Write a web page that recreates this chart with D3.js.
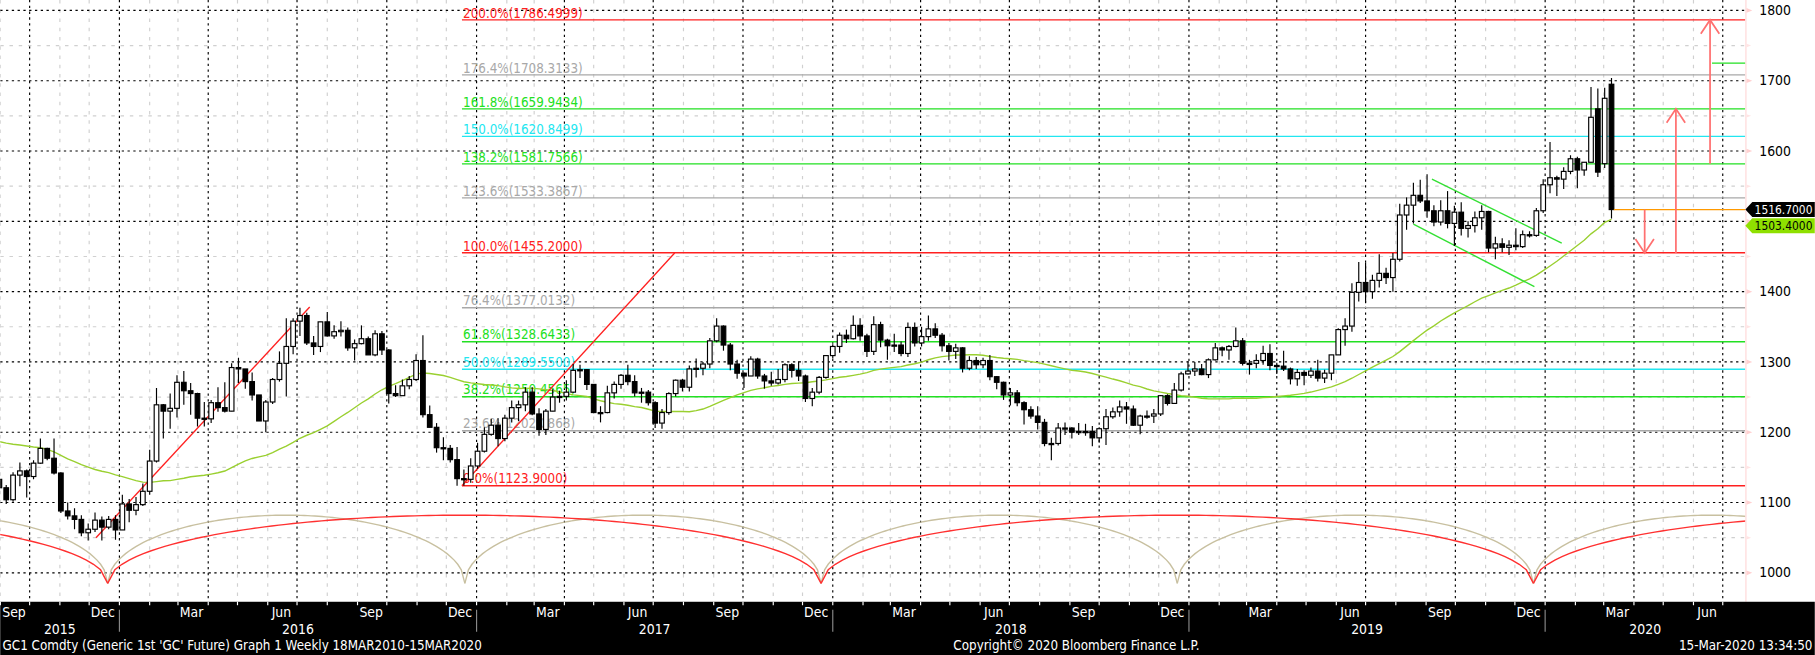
<!DOCTYPE html>
<html><head><meta charset="utf-8">
<script src="https://cdn.jsdelivr.net/npm/d3@7"></script>
<style>body{margin:0;background:#fff}svg{display:block}</style>
</head><body>
<svg id="c" width="1815" height="655" viewBox="0 0 1568 566"></svg>
<script>
// ---- DATA ----
const firstWeek = "2015-08-31";
const opens = [1133,1121,1104,1139,1145,1137,1156,1177,1163,1142,1088,1081,1076,1057,1062,1075,1065,1076,
1061,1098,1089,1097,1116,1159,1239,1230,1234,1271,1259,1255,1220,1219,1242,1235,1230,1292,1290,1272,1253,1216,1243,1275,1298,1322,1358,1366,1327,1322,1357,1337,1343,1345,1320,1326,1333,1310,1340,1317,1255,1252,1266,1275,1302,1225,1207,1178,1177,1161,1134,1133,
1152,1173,1197,1210,1191,1220,1235,1239,1257,1226,1204,1230,1250,1251,1257,1288,1289,1268,1228,1228,1256,1268,1281,1272,1256,1257,1242,1213,1228,1255,1274,1264,1290,1291,1297,1330,1351,1324,1297,1284,1280,1304,1280,1273,1270,1275,1296,1288,1280,1248,1257,1278,
1309,1322,1338,1333,1352,1337,1315,1353,1331,1323,1324,1312,1349,1327,1336,1347,1338,1323,1315,1320,1291,1302,1296,1302,1279,1271,1253,1256,1242,1232,1223,1214,1184,1184,1206,1206,1200,1201,1201,1192,1205,1222,1229,1236,1233,1210,1223,1223,1226,1252,1241,1260,
1283,1287,1290,1282,1303,1320,1317,1322,1330,1298,1298,1302,1312,1295,1294,1290,1276,1285,1281,1287,1277,1284,1310,1346,1351,1399,1413,1400,1416,1426,1420,1446,1509,1523,1537,1529,1515,1499,1515,1497,1513,1490,1494,1505,1514,1462,1468,1463,1466,1464,1481,1480,
1515,1552,1562,1560,1571,1589,1573,1584,1660,1582,1695];
const highs = [1148,1125,1143,1157,1147,1160,1191,1178,1191,1143,1100,1092,1082,1070,1086,1080,1081,1082,
1111,1105,1108,1127,1175,1263,1240,1255,1281,1287,1270,1256,1243,1246,1264,1271,1298,1306,1290,1285,1253,1246,1277,1315,1362,1362,1377,1370,1337,1357,1371,1352,1358,1349,1332,1352,1336,1345,1344,1318,1267,1275,1280,1311,1338,1238,1213,1193,1182,1179,1147,1163,
1185,1207,1219,1220,1225,1245,1245,1264,1264,1234,1233,1261,1259,1274,1297,1296,1290,1268,1237,1266,1272,1283,1296,1281,1263,1260,1244,1233,1257,1275,1276,1295,1305,1300,1334,1362,1352,1327,1303,1285,1308,1306,1283,1286,1290,1298,1298,1301,1282,1263,1280,1310,
1325,1342,1346,1366,1362,1340,1365,1357,1333,1340,1329,1356,1356,1350,1366,1355,1341,1327,1326,1321,1308,1307,1306,1310,1280,1272,1263,1260,1244,1237,1237,1219,1192,1213,1214,1207,1213,1212,1209,1207,1233,1235,1245,1243,1238,1225,1231,1233,1253,1254,1270,1286,
1301,1300,1297,1305,1327,1322,1324,1349,1334,1303,1311,1323,1325,1299,1316,1292,1290,1288,1292,1303,1289,1310,1348,1362,1412,1442,1441,1424,1453,1434,1455,1525,1534,1555,1559,1567,1523,1530,1543,1522,1527,1500,1514,1523,1515,1478,1476,1473,1490,1487,1486,1519,
1560,1613,1565,1577,1594,1592,1584,1691,1689,1690,1704];
const lows = [1117,1098,1101,1123,1107,1133,1155,1160,1140,1085,1076,1062,1052,1046,1058,1046,1062,1047,
1062,1072,1082,1095,1111,1157,1191,1205,1221,1239,1225,1208,1208,1213,1229,1228,1230,1270,1262,1245,1216,1200,1240,1272,1251,1311,1337,1324,1310,1314,1336,1333,1336,1316,1302,1325,1313,1308,1310,1241,1250,1253,1261,1273,1221,1207,1171,1160,1157,1124,1124,1128,
1148,1171,1195,1180,1187,1214,1216,1230,1224,1195,1196,1230,1242,1245,1256,1277,1260,1227,1214,1227,1248,1262,1267,1251,1242,1238,1206,1205,1225,1251,1258,1258,1278,1281,1291,1328,1316,1288,1276,1263,1280,1276,1262,1266,1268,1271,1278,1273,1243,1237,1254,1276,
1305,1313,1327,1332,1330,1307,1310,1321,1303,1314,1308,1307,1322,1322,1330,1334,1315,1302,1304,1285,1288,1290,1291,1274,1261,1246,1238,1237,1211,1219,1204,1180,1160,1181,1196,1191,1196,1195,1180,1185,1182,1219,1222,1212,1209,1197,1219,1213,1223,1238,1240,1258,
1282,1280,1281,1277,1302,1308,1303,1321,1295,1282,1291,1296,1288,1283,1287,1268,1266,1267,1277,1272,1270,1274,1310,1323,1343,1386,1384,1390,1406,1411,1400,1443,1488,1497,1526,1505,1493,1494,1490,1465,1480,1477,1484,1488,1456,1446,1456,1452,1459,1462,1477,1478,
1512,1540,1536,1546,1567,1547,1565,1584,1563,1576,1504];
const closes = [1121,1104,1139,1145,1137,1156,1177,1163,1142,1088,1081,1076,1057,1062,1075,1065,1076,1061,
1098,1089,1097,1116,1159,1239,1230,1234,1271,1259,1255,1220,1219,1242,1235,1230,1292,1290,1272,1253,1216,1243,1275,1298,1322,1358,1366,1327,1322,1357,1337,1343,1345,1320,1326,1333,1310,1340,1317,1255,1252,1266,1275,1302,1225,1207,1178,1177,1161,1134,1133,1152,
1173,1197,1210,1191,1220,1235,1239,1257,1226,1204,1230,1250,1251,1257,1288,1289,1268,1228,1228,1256,1268,1281,1272,1256,1257,1242,1213,1228,1255,1274,1264,1290,1291,1297,1330,1351,1324,1297,1284,1280,1304,1280,1273,1270,1275,1296,1288,1280,1248,1257,1278,1309,
1322,1338,1333,1352,1337,1315,1353,1331,1323,1324,1312,1349,1327,1336,1347,1338,1323,1315,1320,1291,1302,1296,1302,1279,1271,1253,1256,1242,1232,1223,1214,1184,1184,1206,1206,1200,1201,1201,1192,1205,1222,1229,1236,1233,1210,1223,1223,1226,1252,1241,1260,1283,
1287,1290,1282,1303,1320,1317,1322,1330,1298,1298,1302,1312,1295,1294,1290,1276,1285,1281,1287,1277,1284,1310,1346,1351,1399,1413,1400,1416,1426,1420,1446,1509,1523,1537,1529,1515,1499,1515,1497,1513,1490,1494,1505,1514,1462,1468,1463,1466,1464,1481,1480,1515,
1552,1562,1560,1571,1589,1573,1584,1648,1570,1675,1516.7];
// weekly closes before the first drawn week (Dec 2014 - Aug 2015), used for the 40-week average
const priorCloses = [1195,1205,1183,1195,1212,1223,1255,1277,1293,1277,1234,1227,1203,1213,1167,1153,1185,1200,1204,1207,1203,1178,1190,1184,1224,1206,1189,1170,1182,1175,1173,1162,1131,1097,1087,1094,1113,1123,1160];
const maWindow = 40;
const yTicks = [1000,1100,1200,1300,1400,1500,1600,1700,1800];
const fibLabels = ["200.0%(1786.4999)","176.4%(1708.3133)","161.8%(1659.9434)","150.0%(1620.8499)","138.2%(1581.7566)","123.6%(1533.3867)","100.0%(1455.2000)","76.4%(1377.0132)","61.8%(1328.6433)","50.0%(1289.5500)","38.2%(1250.4565)","23.6%(1202.0868)","0.0%(1123.9000)"];
const fibValues = [1786.4999,1708.3133,1659.9434,1620.8499,1581.7566,1533.3867,1455.2,1377.0132,1328.6433,1289.55,1250.4565,1202.0868,1123.9];
const fibKinds = ["r","g","lg","c","lg","g","r","g","lg","c","lg","g","r"];
const fibStart = "2016-12-17";
const trendLines = [["2015-12-08",1050,"2016-07-14",1378],["2016-12-17",1124,"2017-07-23",1455]];
const channel = [["2019-09-07",1560,"2020-01-18",1469],["2019-08-19",1496,"2019-12-21",1407]];
const arrows = [["2020-04-12",1516.7,1455],["2020-05-14",1455,1660],["2020-06-18",1582,1786.5]];
const greenMark = ["2020-06-20","2020-07-30",1725];
const shortCycle = ["2014-12-20","2015-12-20","2016-12-20","2017-12-20","2018-12-20","2019-12-20","2020-12-20"];
const longCycle = ["2013-12-20","2015-12-20","2017-12-20","2019-12-20","2021-12-20"];
const cycleLow = 985, cycleHigh = 1082;
const lastPrice = 1516.7, lastMA = 1503.4;
const footerLeft = "GC1 Comdty (Generic 1st 'GC' Future) Graph 1  Weekly 18MAR2010-15MAR2020";
const footerMid = "Copyright© 2020 Bloomberg Finance L.P.";
const footerRight = "15-Mar-2020 13:34:50";

// ---- DRAW ----
const svg = d3.select("#c");
const W = 1568, H = 566, PR = 1508, PB = 520;
const P = d3.utcParse("%Y-%m-%d");
const x = d3.scaleUtc().domain([P("2016-01-01"), P("2020-01-01")]).range([103, 1335]);
const y = d3.scaleLinear().domain([1000, 1800]).range([495, 9]);
const FONT = "'DejaVu Sans Condensed','DejaVu Sans',sans-serif";
const COL = {r:"#ff2020", g:"#a8a8a8", lg:"#22e022", c:"#22e6f0"};

svg.append("rect").attr("width",W).attr("height",H).attr("fill","#fff");
svg.append("clipPath").attr("id","pc").append("rect").attr("x",0).attr("y",0).attr("width",PR).attr("height",PB);
const plot = svg.append("g").attr("clip-path","url(#pc)");

const xStart = x.invert(0), xEnd = x.invert(PR);
const months = d3.utcMonth.range(d3.utcMonth.ceil(xStart), xEnd);
plot.selectAll(".mg").data(months).join("line")
  .attr("x1",d=>x(d)).attr("x2",d=>x(d)).attr("y1",0).attr("y2",PB)
  .attr("stroke", d=>d.getUTCMonth()%3===0?"#000":"#d0d0d0")
  .attr("stroke-dasharray", d=>d.getUTCMonth()%3===0?"2,3":"3,5").attr("stroke-width",1);
const hv = d3.range(950,1851,50);
plot.selectAll(".hg").data(hv).join("line")
  .attr("x1",0).attr("x2",PR).attr("y1",d=>y(d)).attr("y2",d=>y(d))
  .attr("stroke",d=>d%100===0?"#000":"#d0d0d0").attr("stroke-dasharray",d=>d%100===0?"2,3":"3,5");

function arcs(list, color){
  for(let i=0;i<list.length-1;i++){
    const a=P(list[i]), b=P(list[i+1]);
    const pts=d3.range(0,1.0001,0.01).map(t=>{
      const dd=new Date(+a+(b-a)*t);
      const e=Math.sqrt(Math.max(0,1-(2*t-1)*(2*t-1)));
      return [x(dd), y(cycleLow+(cycleHigh-cycleLow)*e)];
    });
    plot.append("path").attr("d",d3.line()(pts)).attr("fill","none").attr("stroke",color).attr("stroke-width",1.2);
  }
}
arcs(shortCycle,"#c8c0a0");
arcs(longCycle,"#ff3030");

const fx0 = x(P(fibStart));
fibValues.forEach((v,i)=>{
  plot.append("line").attr("x1",fx0).attr("x2",PR).attr("y1",y(v)).attr("y2",y(v)).attr("stroke",COL[fibKinds[i]]).attr("stroke-width",1.2);
  plot.append("text").attr("x",fx0+1).attr("y",y(v)-2).text(fibLabels[i]).attr("fill",COL[fibKinds[i]])
    .attr("font-family",FONT).attr("font-size",11.5);
});

const all = priorCloses.concat(closes);
const weekDate = i => d3.utcDay.offset(P(firstWeek), 7*i);
const ma = closes.map((c,i)=>{
  const j=i+priorCloses.length; const s=all.slice(j-maWindow+1,j+1);
  return [x(weekDate(i)), y(d3.mean(s))];
});
plot.append("path").attr("d",d3.line()(ma)).attr("fill","none").attr("stroke","#9ad030").attr("stroke-width",1.2);

trendLines.forEach(t=>plot.append("line").attr("x1",x(P(t[0]))).attr("y1",y(t[1])).attr("x2",x(P(t[2]))).attr("y2",y(t[3])).attr("stroke","#ff2020").attr("stroke-width",1.2));
channel.forEach(t=>plot.append("line").attr("x1",x(P(t[0]))).attr("y1",y(t[1])).attr("x2",x(P(t[2]))).attr("y2",y(t[3])).attr("stroke","#33e033").attr("stroke-width",1.2));

const cw = 4;
closes.forEach((c,i)=>{
  const cx=x(weekDate(i)), o=opens[i], up=c>=o;
  plot.append("line").attr("x1",cx).attr("x2",cx).attr("y1",y(highs[i])).attr("y2",y(lows[i])).attr("stroke","#000");
  const top=y(Math.max(o,c)), h=Math.max(1,Math.abs(y(o)-y(c)));
  plot.append("rect").attr("x",cx-cw/2).attr("y",top).attr("width",cw).attr("height",h)
    .attr("fill",up?"#fff":"#000").attr("stroke","#000").attr("stroke-width",1);
});

const lastX = x(weekDate(closes.length-1));
plot.append("line").attr("x1",lastX+2).attr("x2",PR).attr("y1",y(lastPrice)).attr("y2",y(lastPrice)).attr("stroke","#ff9900").attr("stroke-width",1.2);
plot.append("line").attr("x1",x(P(greenMark[0]))).attr("x2",x(P(greenMark[1]))).attr("y1",y(greenMark[2])).attr("y2",y(greenMark[2])).attr("stroke","#22e022").attr("stroke-width",1.2);
arrows.forEach(a=>{
  const ax=x(P(a[0])), y0=y(a[1]), y1=y(a[2]), dir=y1<y0?1:-1;
  const g=plot.append("g").attr("stroke","#ff7070").attr("fill","none").attr("stroke-width",1.5);
  g.append("line").attr("x1",ax).attr("x2",ax).attr("y1",y0).attr("y2",y1);
  g.append("polyline").attr("points",`${ax-8},${y1+dir*12} ${ax},${y1} ${ax+8},${y1+dir*12}`);
});

const tagY1 = y(lastPrice), tagY2 = y(lastPrice)+14;
svg.append("line").attr("x1",PR+0.5).attr("x2",PR+0.5).attr("y1",0).attr("y2",PB).attr("stroke","#ffd8d8");
yTicks.forEach(v=>{
  svg.append("path").attr("d",`M${PR+1},${y(v)-2}L${PR+6},${y(v)}L${PR+1},${y(v)+2}Z`).attr("fill","#ffd0d0");
  if(Math.abs(y(v)-tagY1)<12 || Math.abs(y(v)-tagY2)<12) return; // hidden behind price tags, as in the original
  svg.append("text").attr("x",PR+12).attr("y",y(v)+4).text(v).attr("font-family",FONT).attr("font-size",12).attr("fill","#000");
});
[1050,1150,1250,1350,1450,1550,1650,1750].forEach(v=>svg.append("path").attr("d",`M${PR+1},${y(v)-1.5}L${PR+5},${y(v)}L${PR+1},${y(v)+1.5}Z`).attr("fill","#ffe4e4"));
function tag(v,bg,fg,yy){
  svg.append("path").attr("d",`M${PR},${yy}L${PR+6},${yy-6.5}H${W}V${yy+6.5}H${PR+6}Z`).attr("fill",bg);
  svg.append("text").attr("x",PR+8).attr("y",yy+3.5).text(v.toFixed(4)).attr("font-family",FONT).attr("font-size",10)
    .attr("textLength",W-PR-10).attr("lengthAdjust","spacingAndGlyphs").attr("fill",fg);
}
tag(lastMA,"#8fe000","#000",tagY2);
tag(lastPrice,"#000","#fff",tagY1);

svg.append("rect").attr("x",0).attr("y",PB).attr("width",W).attr("height",H-PB).attr("fill","#000");
svg.selectAll(".mt").data(months).join("line").attr("x1",d=>x(d)).attr("x2",d=>x(d)).attr("y1",PB).attr("y2",PB+3).attr("stroke","#fff");
const qMonths = d3.utcMonth.range(d3.utcMonth.floor(xStart), xEnd).filter(d=>[2,5,8,11].includes(d.getUTCMonth()));
svg.selectAll(".ml").data(qMonths).join("text")
  .attr("x",d=>x(d3.utcDay.offset(d,14))).attr("y",PB+13).attr("text-anchor","middle")
  .text(d3.utcFormat("%b")).attr("fill","#fff").attr("font-family",FONT).attr("font-size",12);
const years = d3.utcYear.range(d3.utcYear.floor(xStart), xEnd);
years.forEach(yr=>{
  const a=Math.max(0,x(yr)), b=Math.min(PR,x(d3.utcYear.offset(yr,1)));
  if(yr>xStart) svg.append("line").attr("x1",x(yr)).attr("x2",x(yr)).attr("y1",PB+7).attr("y2",PB+26).attr("stroke","#888");
  svg.append("text").attr("x",(a+b)/2).attr("y",PB+28).attr("text-anchor","middle").text(yr.getUTCFullYear())
    .attr("fill","#fff").attr("font-family",FONT).attr("font-size",12);
});
svg.append("text").attr("x",2).attr("y",H-4).text(footerLeft).attr("fill","#fff").attr("font-family",FONT).attr("font-size",11.5);
svg.append("text").attr("x",930).attr("y",H-4).attr("text-anchor","middle").text(footerMid).attr("fill","#fff").attr("font-family",FONT).attr("font-size",11.5);
svg.append("text").attr("x",W-2).attr("y",H-4).attr("text-anchor","end").text(footerRight).attr("fill","#fff").attr("font-family",FONT).attr("font-size",11.5);
</script></body></html>
